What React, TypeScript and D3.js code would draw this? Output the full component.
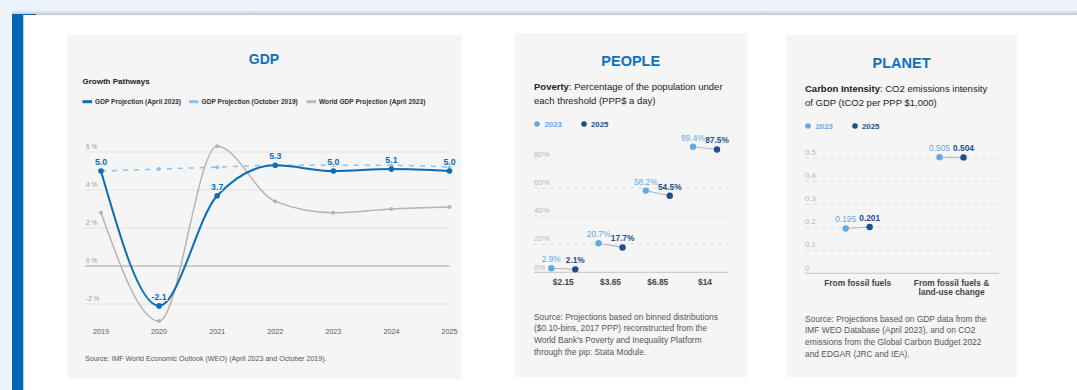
import React from "react";
import * as d3 from "d3";

const years = ["2019", "2020", "2021", "2022", "2023", "2024", "2025"];
const gdpApr2023 = [5.0, -2.1, 3.7, 5.3, 5.0, 5.1, 5.0];
const gdpOct2019 = [5.0, 5.1, 5.2, 5.3, 5.3, 5.3, 5.2];
const worldApr2023 = [2.8, -2.9, 6.3, 3.4, 2.8, 3.0, 3.1];
const gdpTicks = [-2, 0, 2, 4, 6];
const gdpLegend = ["GDP Projection (April 2023)", "GDP Projection (October 2019)", "World GDP Projection (April 2023)"];

const povertyCats = ["$2.15", "$3.65", "$6.85", "$14"];
const poverty2023 = [2.9, 20.7, 58.2, 89.4];
const poverty2025 = [2.1, 17.7, 54.5, 87.5];
const povertyTicks = [0, 20, 40, 60, 80];

const carbonCats = ["From fossil fuels", "From fossil fuels & land-use change"];
const carbonCatLines = [["From fossil fuels"], ["From fossil fuels &", "land-use change"]];
const carbon2023 = [0.195, 0.505];
const carbon2025 = [0.201, 0.504];
const carbonTicks = [0, 0.1, 0.2, 0.3, 0.4, 0.5];

const povertySource = [
  "Source: Projections based on binned distributions",
  "($0.10-bins, 2017 PPP) reconstructed from the",
  "World Bank's Poverty and Inequality Platform",
  "through the pip: Stata Module.",
];
const carbonSource = [
  "Source: Projections based on GDP data from the",
  "IMF WEO Database (April 2023), and on CO2",
  "emissions from the Global Carbon Budget 2022",
  "and EDGAR (JRC and IEA).",
];

const FONT = "'Liberation Sans', Arial, Helvetica, sans-serif";
const BLUE = "#0b6db5";
const TITLE = "#1270b8";
const LIGHT = "#8dc2ee";
const GRAY = "#b4b4b4";
const C23 = "#62a8e6";
const C25 = "#1d4f8a";
const PANEL = "#f5f5f5";

function GDPPanel() {
  const x = d3.scalePoint<string>().domain(years).range([101, 449.5]);
  const y = d3.scaleLinear().domain([0, 6]).range([266, 152]);
  const line = d3
    .line<number>()
    .x((_, i) => x(years[i]) as number)
    .y((d) => y(d))
    .curve(d3.curveMonotoneX);
  const legendX = [82.5, 189, 306.5];
  const legendColors = [BLUE, LIGHT, "#b8b8b8"];
  return (
    <g>
      <rect x={67} y={35} width={395} height={344} fill={PANEL} />
      <text x={264} y={64} textAnchor="middle" fontSize={14} fontWeight="bold" fill={TITLE}>GDP</text>
      <text x={82.5} y={83.5} fontSize={8} fontWeight="bold" fill="#222">Growth Pathways</text>
      {gdpLegend.map((t, i) => (
        <g key={t}>
          <line x1={legendX[i]} x2={legendX[i] + 9.5} y1={101.7} y2={101.7} stroke={legendColors[i]} strokeWidth={3} />
          <text x={legendX[i] + 12.5} y={104.2} fontSize={6.6} fontWeight="bold" fill="#333">{t}</text>
        </g>
      ))}
      {gdpTicks.map((t) => (
        <g key={t}>
          <line x1={85} x2={449.5} y1={y(t)} y2={y(t)} stroke={t === 0 ? "#a0a0a0" : "#e2e2e2"} strokeWidth={1} />
          <text x={86} y={y(t) - 3} fontSize={6.5} fill="#9a9a9a">{`${t} %`}</text>
        </g>
      ))}
      {years.map((yr) => (
        <text key={yr} x={x(yr)} y={333.5} textAnchor="middle" fontSize={7.2} fill="#555">{yr}</text>
      ))}
      <path d={line(worldApr2023) || ""} fill="none" stroke={GRAY} strokeWidth={1.5} />
      {worldApr2023.map((v, i) => (
        <circle key={i} cx={x(years[i])} cy={y(v)} r={2} fill={GRAY} />
      ))}
      <path d={line(gdpOct2019) || ""} fill="none" stroke={LIGHT} strokeWidth={1.5} strokeDasharray="5,6" />
      {gdpOct2019.map((v, i) => (
        <circle key={i} cx={x(years[i])} cy={y(v)} r={2} fill={LIGHT} />
      ))}
      <path d={line(gdpApr2023) || ""} fill="none" stroke={BLUE} strokeWidth={2} />
      {gdpApr2023.map((v, i) => (
        <g key={i}>
          <circle cx={x(years[i])} cy={y(v)} r={2.8} fill={BLUE} />
          <text
            x={x(years[i])}
            y={y(v) - 6}
            textAnchor="middle"
            fontSize={8.8}
            fontWeight="bold"
            fill={BLUE}
            stroke={PANEL}
            strokeWidth={2}
            paintOrder="stroke"
          >
            {v.toFixed(1)}
          </text>
        </g>
      ))}
      <text x={85} y={360.5} fontSize={7.1} fill="#555">
        Source: IMF World Economic Outlook (WEO) (April 2023 and October 2019).
      </text>
    </g>
  );
}

type DumbbellProps = {
  px: number;
  py: number;
  pw: number;
  ph: number;
  title: string;
  boldLead: string;
  lead: string;
  line2: string;
  left: number;
  right: number;
  cats: string[];
  catLines: string[][];
  catRange: [number, number];
  v23: number[];
  v25: number[];
  ticks: number[];
  yDomain: [number, number];
  yRange: [number, number];
  fmtTick: (v: number) => string;
  fmtVal: (v: number) => string;
  source: string[];
};

function DumbbellPanel(p: DumbbellProps) {
  const x = d3.scalePoint<string>().domain(p.cats).range(p.catRange);
  const y = d3.scaleLinear().domain(p.yDomain).range(p.yRange);
  const off = 12;
  const cx = (p.px + p.px + p.pw) / 2;
  return (
    <g>
      <rect x={p.px} y={p.py} width={p.pw} height={p.ph} fill={PANEL} />
      <text x={cx} y={p.py + 33} textAnchor="middle" fontSize={14.5} fontWeight="bold" fill={TITLE}>{p.title}</text>
      <text x={p.left} y={p.py + 57} fontSize={9.5} fill="#222">
        <tspan fontWeight="bold">{p.boldLead}</tspan>
        <tspan>{p.lead}</tspan>
      </text>
      <text x={p.left} y={p.py + 71} fontSize={9.5} fill="#222">{p.line2}</text>
      <circle cx={p.left + 3} cy={p.py + 91} r={2.8} fill={C23} />
      <text x={p.left + 10.5} y={p.py + 93.5} fontSize={7.8} fontWeight="bold" fill={C23}>2023</text>
      <circle cx={p.left + 50} cy={p.py + 91} r={2.8} fill={C25} />
      <text x={p.left + 57} y={p.py + 93.5} fontSize={7.8} fontWeight="bold" fill={C25}>2025</text>
      {p.ticks.map((t) =>
        t === 0 ? (
          <g key={t}>
            <line x1={p.left} x2={p.right} y1={y(t)} y2={y(t)} stroke="#c4c4c4" strokeWidth={1} />
            <text x={p.left} y={y(t) - 2.5} fontSize={7.8} fill="#b5b5b5">{p.fmtTick(t)}</text>
          </g>
        ) : (
          <g key={t}>
            <line x1={p.left} x2={p.right} y1={y(t)} y2={y(t)} stroke="#dedede" strokeWidth={1} strokeDasharray="4,4" />
            <text x={p.left} y={y(t) - 3} fontSize={7.8} fill="#b5b5b5">{p.fmtTick(t)}</text>
          </g>
        )
      )}
      {p.cats.map((c, i) => (
        <text key={c} x={x(c)} y={y(0) + 12.5} textAnchor="middle" fontSize={8.4} fontWeight="bold" fill="#444">
          {p.catLines[i].map((l, j) => (
            <tspan key={j} x={x(c)} dy={j === 0 ? 0 : 9.5}>{l}</tspan>
          ))}
        </text>
      ))}
      {p.cats.map((c, i) => {
        const x0 = (x(c) as number) - off;
        const x1 = (x(c) as number) + off;
        return (
          <g key={c}>
            <line x1={x0} x2={x1} y1={y(p.v23[i])} y2={y(p.v25[i])} stroke="#b0b0b0" strokeWidth={1} />
            <circle cx={x0} cy={y(p.v23[i])} r={3.2} fill={C23} />
            <circle cx={x1} cy={y(p.v25[i])} r={3.2} fill={C25} />
            <text x={x0} y={y(p.v23[i]) - 6} textAnchor="middle" fontSize={8.3} fill={C23}>{p.fmtVal(p.v23[i])}</text>
            <text x={x1} y={y(p.v25[i]) - 6} textAnchor="middle" fontSize={8.3} fontWeight="bold" fill={C25}>{p.fmtVal(p.v25[i])}</text>
          </g>
        );
      })}
      {p.source.map((s, i) => (
        <text key={i} x={p.left} y={p.py + 286.5 + i * 11.7} fontSize={8.4} fill="#555">{s}</text>
      ))}
    </g>
  );
}

export default function App() {
  return (
    <svg
      width={1077}
      height={390}
      style={{ position: "absolute", left: 0, top: 0, fontFamily: FONT }}
      fontFamily={FONT}
    >
      <defs>
        <linearGradient id="shadow" x1="0" y1="0" x2="0" y2="1">
          <stop offset="0" stopColor="#edf3fa" />
          <stop offset="1" stopColor="#c9d0da" />
        </linearGradient>
      </defs>
      <rect x={0} y={0} width={1077} height={390} fill="#edf3fa" />
      <rect x={12} y={10} width={1065} height={4} fill="url(#shadow)" />
      <rect x={12} y={14} width={1065} height={376} fill="#ffffff" />
      <line x1={12} x2={1077} y1={14.5} y2={14.5} stroke="#c3cad4" strokeWidth={1} />
      <rect x={12} y={14} width={11.3} height={376} fill="#0068b0" />
      <line x1={12} x2={36} y1={14.5} y2={14.5} stroke="#0068b0" strokeWidth={1} />
      <GDPPanel />
      <DumbbellPanel
        px={514}
        py={33}
        pw={233.5}
        ph={344}
        title="PEOPLE"
        boldLead="Poverty"
        lead=": Percentage of the population under"
        line2="each threshold (PPP$ a day)"
        left={534}
        right={728}
        cats={povertyCats}
        catLines={povertyCats.map((c) => [c])}
        catRange={[563.3, 705]}
        v23={poverty2023}
        v25={poverty2025}
        ticks={povertyTicks}
        yDomain={[0, 80]}
        yRange={[272.3, 160]}
        fmtTick={(v) => `${v}%`}
        fmtVal={(v) => `${v.toFixed(1)}%`}
        source={povertySource}
      />
      <DumbbellPanel
        px={786}
        py={35}
        pw={231}
        ph={342}
        title="PLANET"
        boldLead="Carbon Intensity"
        lead=": CO2 emissions intensity"
        line2="of GDP (tCO2 per PPP $1,000)"
        left={805}
        right={999}
        cats={carbonCats}
        catLines={carbonCatLines}
        catRange={[857.7, 951.5]}
        v23={carbon2023}
        v25={carbon2025}
        ticks={carbonTicks}
        yDomain={[0, 0.5]}
        yRange={[273.3, 158.3]}
        fmtTick={(v) => `${v}`}
        fmtVal={(v) => v.toFixed(3)}
        source={carbonSource}
      />
    </svg>
  );
}
